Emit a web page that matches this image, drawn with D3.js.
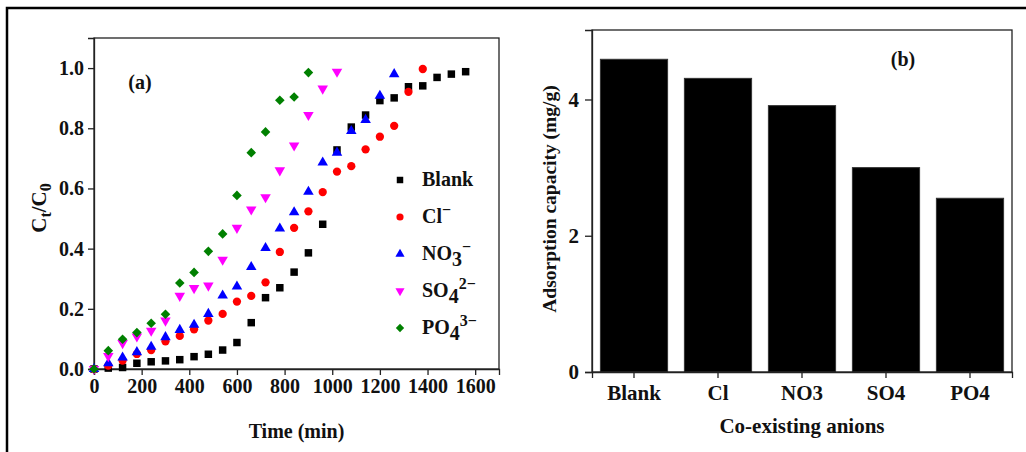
<!DOCTYPE html>
<html>
<head>
<meta charset="utf-8">
<script src="https://cdn.jsdelivr.net/npm/d3@7"></script>
<style>
  body { margin: 0; background: #fff; }
  svg text { font-family: "Liberation Serif", "Times New Roman", serif; font-weight: bold; fill: #111; }
  .axis path, .axis line { stroke: #222; stroke-width: 1.3; }
</style>
</head>
<body>
<div class="chart"></div>
<script>
// time points (min)
const timeMin = [0, 60, 120, 180, 240, 300, 360, 420, 480, 540, 600, 660, 720, 780, 840,
  900, 960, 1020, 1080, 1140, 1200, 1260, 1320, 1380, 1440, 1500, 1560];

// Ct/C0 per series
const blankVals = [0, 0.003, 0.005, 0.019, 0.024, 0.027, 0.031, 0.041, 0.049, 0.063, 0.088, 0.154,
  0.237, 0.27, 0.322, 0.386, 0.481, 0.728, 0.804, 0.844, 0.892, 0.901, 0.938, 0.941, 0.969, 0.98, 0.988];
const clVals = [0, 0.011, 0.028, 0.05, 0.063, 0.092, 0.11, 0.132, 0.161, 0.183, 0.224, 0.243,
  0.288, 0.389, 0.469, 0.524, 0.588, 0.656, 0.674, 0.73, 0.772, 0.808, 0.921, 0.997];
const no3Vals = [0, 0.019, 0.038, 0.056, 0.074, 0.106, 0.13, 0.147, 0.183, 0.244, 0.274, 0.339,
  0.402, 0.467, 0.521, 0.589, 0.686, 0.719, 0.791, 0.828, 0.908, 0.98];
const so4Vals = [0, 0.043, 0.086, 0.108, 0.127, 0.161, 0.243, 0.269, 0.277, 0.363, 0.469, 0.53,
  0.571, 0.66, 0.743, 0.844, 0.932, 0.988];
const po4Vals = [0, 0.061, 0.099, 0.121, 0.152, 0.182, 0.286, 0.321, 0.391, 0.449, 0.577, 0.719,
  0.788, 0.893, 0.904, 0.985];

const xTicksA = [0, 200, 400, 600, 800, 1000, 1200, 1400, 1600];
const yTicksA = [0, 0.2, 0.4, 0.6, 0.8, 1.0];

// panel (b)
const anions = ["Blank", "Cl", "NO3", "SO4", "PO4"];
const capacity = [4.59, 4.31, 3.91, 3.0, 2.55];
const yTicksB = [0, 2, 4];

const W = 1026, H = 452;
const svg = d3.select('.chart')
    .append('svg')
    .attr('width', W)
    .attr('height', H);

// outer border (top + left)
svg.append('path')
    .attr('d', 'M7,452 L7,8 L1026,8')
    .attr('fill', 'none')
    .attr('stroke', '#000')
    .attr('stroke-width', 2.5);

// ---------- panel (a) ----------
const A = {left: 94, top: 38, right: 499, bottom: 369};
const x = d3.scaleLinear().domain([0, 1700]).range([A.left, A.right]);
const y = d3.scaleLinear().domain([0, 1.1]).range([A.bottom, A.top]);

svg.append('rect')
    .attr('x', A.left).attr('y', A.top)
    .attr('width', A.right - A.left).attr('height', A.bottom - A.top)
    .attr('fill', 'none').attr('stroke', '#222').attr('stroke-width', 1.3);

svg.append('g')
    .attr('class', 'axis')
    .attr('transform', `translate(0,${A.bottom})`)
    .call(d3.axisBottom(x).tickValues(xTicksA).tickSize(6).tickPadding(4).tickFormat(d3.format('d')))
    .call(g => g.selectAll('text').attr('font-size', 20).style('font-family', '"Liberation Serif", serif'));

svg.append('g')
    .attr('class', 'axis')
    .attr('transform', `translate(${A.left},0)`)
    .call(d3.axisLeft(y).tickValues(yTicksA).tickSize(6).tickPadding(4).tickFormat(d3.format('.1f')))
    .call(g => g.selectAll('text').attr('font-size', 20).style('font-family', '"Liberation Serif", serif'));

const series = [
    {name: 'Blank', vals: blankVals, color: '#000000', shape: 'square', size: 56},
    {name: 'Cl', vals: clVals, color: '#ff0000', shape: 'circle', size: 54},
    {name: 'NO3', vals: no3Vals, color: '#0000ff', shape: 'up', size: 48},
    {name: 'SO4', vals: so4Vals, color: '#ff00ff', shape: 'down', size: 48},
    {name: 'PO4', vals: po4Vals, color: '#008000', shape: 'diamond', size: 46}
];

function symPath(shape, size) {
    if (shape === 'square') return d3.symbol(d3.symbolSquare, size)();
    if (shape === 'circle') return d3.symbol(d3.symbolCircle, size)();
    if (shape === 'diamond') return d3.symbol(d3.symbolSquare, size)();
    return d3.symbol(d3.symbolTriangle, size)();
}
function symRot(shape) {
    if (shape === 'down') return ' rotate(180)';
    if (shape === 'diamond') return ' rotate(45)';
    return '';
}

series.forEach(s => {
    svg.append('g')
        .selectAll('path')
        .data(s.vals)
        .enter()
        .append('path')
        .attr('d', symPath(s.shape, s.size))
        .attr('transform', (d, i) => `translate(${x(timeMin[i])},${y(d)})` + symRot(s.shape))
        .attr('fill', s.color);
});

// legend
const legLabels = [
    [['Blank', 0]],
    [['Cl', 0], ['−', 'sup']],
    [['NO', 0], ['3', 'sub'], ['−', 'sup']],
    [['SO', 0], ['4', 'sub'], ['2−', 'sup']],
    [['PO', 0], ['4', 'sub'], ['3−', 'sup']]
];
series.forEach((s, i) => {
    const by = 186 + i * 37;
    svg.append('path')
        .attr('d', symPath(s.shape, s.size * 0.75))
        .attr('transform', `translate(400,${by - 6})` + symRot(s.shape))
        .attr('fill', s.color);
    const t = svg.append('text')
        .attr('x', 422).attr('y', by)
        .attr('font-size', 20);
    let shift = 0;
    legLabels[i].forEach(p => {
        let target = 0;
        if (p[1] === 'sub') target = 6;
        if (p[1] === 'sup') target = -8;
        t.append('tspan')
            .attr('dy', target - shift)
            .attr('font-size', p[1] === 'sup' ? 16 : 20)
            .text(p[0]);
        shift = target;
    });
});

svg.append('text')
    .attr('x', 140).attr('y', 89)
    .attr('text-anchor', 'middle')
    .attr('font-size', 20)
    .text('(a)');

svg.append('text')
    .attr('x', (A.left + A.right) / 2).attr('y', 438)
    .attr('text-anchor', 'middle')
    .attr('font-size', 20)
    .text('Time (min)');

const yl = svg.append('text')
    .attr('transform', 'translate(46,208) rotate(-90)')
    .attr('text-anchor', 'middle')
    .attr('font-size', 21);
yl.append('tspan').text('C');
yl.append('tspan').attr('dy', 5).attr('font-size', 16).text('t');
yl.append('tspan').attr('dy', -5).text('/C');
yl.append('tspan').attr('dy', 5).attr('font-size', 16).text('0');

// ---------- panel (b) ----------
const B = {left: 592, top: 30, right: 1012, bottom: 372};
const xb = d3.scaleBand().domain(anions).range([B.left, B.right]).paddingInner(0.2).paddingOuter(0.1);
const yb = d3.scaleLinear().domain([0, 5.02]).range([B.bottom, B.top]);

svg.append('g')
    .selectAll('.bar')
    .data(capacity)
    .enter()
    .append('rect')
    .attr('class', 'bar')
    .attr('x', (d, i) => xb(anions[i]))
    .attr('y', d => yb(d))
    .attr('width', xb.bandwidth())
    .attr('height', d => yb(0) - yb(d))
    .attr('fill', '#000')
    .attr('stroke', '#333')
    .attr('stroke-width', 1);

svg.append('rect')
    .attr('x', B.left).attr('y', B.top)
    .attr('width', B.right - B.left).attr('height', B.bottom - B.top)
    .attr('fill', 'none').attr('stroke', '#222').attr('stroke-width', 1.3);

svg.append('g')
    .attr('class', 'axis')
    .attr('transform', `translate(0,${B.bottom})`)
    .call(d3.axisBottom(xb).tickSize(6).tickPadding(7))
    .call(g => g.selectAll('text').attr('font-size', 21).style('font-family', '"Liberation Serif", serif'));

svg.append('g')
    .attr('class', 'axis')
    .attr('transform', `translate(${B.left},0)`)
    .call(d3.axisLeft(yb).tickValues(yTicksB).tickSize(7).tickPadding(6).tickFormat(d3.format('d')))
    .call(g => g.selectAll('text').attr('font-size', 21).style('font-family', '"Liberation Serif", serif'));

svg.append('text')
    .attr('x', 903).attr('y', 66)
    .attr('text-anchor', 'middle')
    .attr('font-size', 20)
    .text('(b)');

svg.append('text')
    .attr('x', (B.left + B.right) / 2).attr('y', 433)
    .attr('text-anchor', 'middle')
    .attr('font-size', 21)
    .text('Co-existing anions');

svg.append('text')
    .attr('transform', 'translate(556,199) rotate(-90)')
    .attr('text-anchor', 'middle')
    .attr('font-size', 19.5)
    .text('Adsorption capacity (mg/g)');
</script>
</body>
</html>
